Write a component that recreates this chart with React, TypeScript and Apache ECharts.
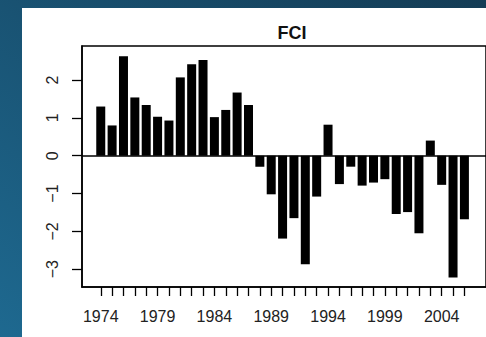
import React, { useEffect, useRef } from "react";
import * as echarts from "echarts";

const years: number[] = [];
for (let y = 1974; y <= 2006; y++) years.push(y);

const fci: number[] = [
  1.3, 0.8, 2.63, 1.54, 1.34, 1.03, 0.93, 2.07, 2.42, 2.53, 1.02, 1.21, 1.67, 1.34,
  -0.29, -1.02, -2.19, -1.65, -2.87, -1.08, 0.82, -0.75, -0.29, -0.79, -0.71, -0.62,
  -1.54, -1.49, -2.05, 0.4, -0.77, -3.22, -1.68,
];

const xLabelYears = [1974, 1979, 1984, 1989, 1994, 1999, 2004];
const yTicks = [-3, -2, -1, 0, 1, 2];
const title = "FCI";

export default function App() {
  const ref = useRef<HTMLDivElement>(null);
  useEffect(() => {
    if (!ref.current) return;
    const chart = echarts.init(ref.current, undefined, { renderer: "svg" });
    const font = "Liberation Sans, Arial, Helvetica, sans-serif";
    chart.setOption({
      animation: false,
      backgroundColor: new echarts.graphic.LinearGradient(0, 1, 1, 0, [
        { offset: 0, color: "#1e6990" },
        { offset: 1, color: "#143c55" },
      ]),
      graphic: [
        {
          type: "rect",
          z: -10,
          shape: { x: 22, y: 8, width: 470, height: 340 },
          style: { fill: "#ffffff" },
        },
      ],
      title: {
        text: title,
        left: 287,
        top: 19,
        textAlign: "center",
        textStyle: { fontFamily: font, fontSize: 18, fontWeight: "bold", color: "#111" },
      },
      grid: { left: 82, right: -6, top: 46, bottom: 50, show: true, borderColor: "#000", borderWidth: 1.5, backgroundColor: "transparent" },
      xAxis: {
        type: "value",
        min: 1972.35,
        max: 2007.9,
        splitLine: { show: false },
        axisLine: { show: true, onZero: false, lineStyle: { color: "#000", width: 1.5 } },
        axisTick: { show: true, length: 9, customValues: years, lineStyle: { color: "#000", width: 1.3 } },
        axisLabel: {
          customValues: xLabelYears,
          formatter: (v: number) => String(v),
          margin: 21,
          fontFamily: font,
          fontSize: 16,
          color: "#222",
        },
      },
      yAxis: {
        type: "value",
        min: -3.47,
        max: 2.9,
        splitLine: { show: false },
        axisLine: { show: true, onZero: false, lineStyle: { color: "#000", width: 1.5 } },
        axisTick: { show: true, length: 10, customValues: yTicks, lineStyle: { color: "#000", width: 1.3 } },
        axisLabel: {
          customValues: yTicks,
          formatter: (v: number) => (v < 0 ? "\u2212" + Math.abs(v) : String(v)),
          rotate: 90,
          margin: 22,
          fontFamily: font,
          fontSize: 16,
          color: "#222",
        },
      },
      series: [
        {
          type: "bar",
          data: years.map((y, i) => [y, fci[i]]),
          barWidth: 9,
          itemStyle: { color: "#000" },
          markLine: {
            silent: true,
            symbol: "none",
            label: { show: false },
            lineStyle: { color: "#000", width: 1.5, type: "solid" },
            data: [{ yAxis: 0 }],
          },
        },
      ],
    });
    return () => chart.dispose();
  }, []);
  return (
    <div style={{ position: "fixed", left: 0, top: 0, width: 486, height: 337, overflow: "hidden" }}>
      <div ref={ref} style={{ width: 486, height: 337 }} />
    </div>
  );
}
